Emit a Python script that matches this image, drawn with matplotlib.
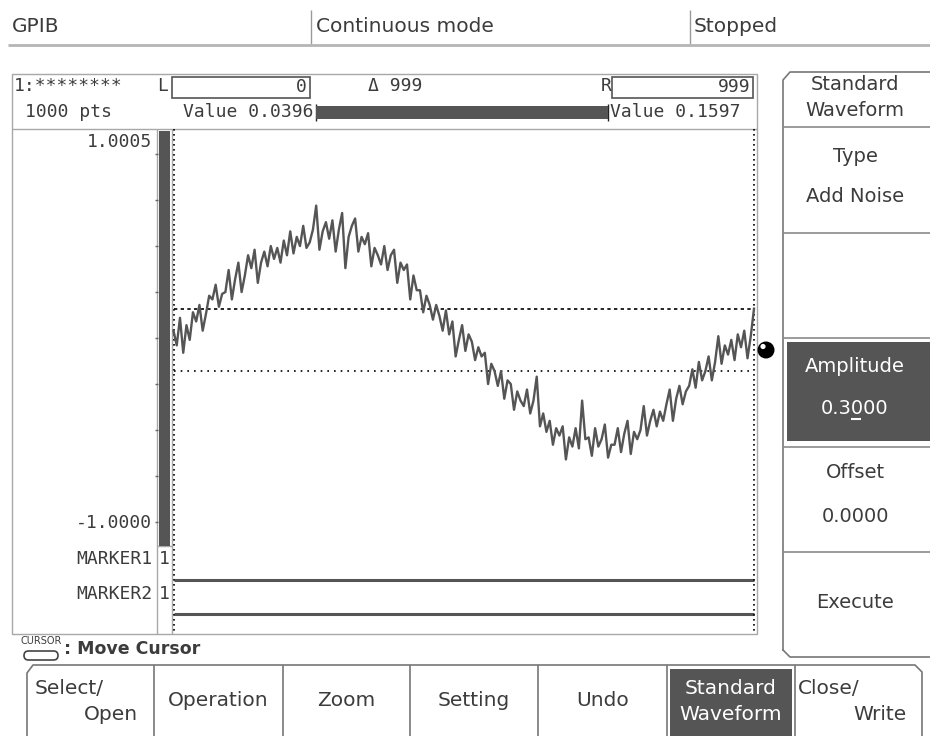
import numpy as np
import matplotlib
matplotlib.use("Agg")
import matplotlib.pyplot as plt
from matplotlib.patches import Rectangle, FancyBboxPatch, Circle

# ---------------- data ----------------
status_texts = ["GPIB", "Continuous mode", "Stopped"]
wave_name = "1:********"
n_points_label = "1000 pts"
cursor_l_index = 0
cursor_r_index = 999
cursor_l_value = 0.0396
cursor_r_value = 0.1597
lower_guide_value = -0.18
y_top_label = "1.0005"
y_bottom_label = "-1.0000"
y_limits = (-1.0, 1.0005)
marker_labels = ["MARKER1", "MARKER2"]
side_title = ["Standard", "Waveform"]
side_items = [("Type", "Add Noise"), ("", ""), ("Amplitude", "0.3000"), ("Offset", "0.0000"), ("Execute", "")]
bottom_buttons = ["Select/\nOpen", "Operation", "Zoom", "Setting", "Undo", "Standard\nWaveform", "Close/\nWrite"]
cursor_hint = ": Move Cursor"

waveform = [
    0.0396, -0.04, 0.11, -0.08,
    0.07, -0.01, 0.14, 0.09,
    0.18, 0.04, 0.13, 0.23,
    0.21, 0.29, 0.17, 0.24,
    0.25, 0.37, 0.21, 0.32,
    0.41, 0.25, 0.34, 0.45,
    0.38, 0.48, 0.30, 0.41,
    0.47, 0.39, 0.50, 0.43,
    0.49, 0.41, 0.53, 0.45,
    0.58, 0.46, 0.55, 0.50,
    0.61, 0.49, 0.52, 0.59,
    0.72, 0.48, 0.58, 0.63,
    0.54, 0.64, 0.47, 0.59,
    0.68, 0.38, 0.55, 0.61,
    0.65, 0.47, 0.55, 0.51,
    0.57, 0.39, 0.49, 0.45,
    0.40, 0.50, 0.37, 0.45,
    0.48, 0.30, 0.41, 0.37,
    0.40, 0.21, 0.34, 0.26,
    0.26, 0.14, 0.23, 0.18,
    0.10, 0.18, 0.12, 0.04,
    0.15, 0.02, 0.09, -0.10,
    -0.01, 0.07, -0.07, 0.02,
    -0.02, -0.12, -0.05, -0.10,
    -0.08, -0.25, -0.14, -0.18,
    -0.26, -0.18, -0.33, -0.23,
    -0.25, -0.39, -0.29, -0.34,
    -0.37, -0.28, -0.41, -0.34,
    -0.21, -0.48, -0.41, -0.51,
    -0.45, -0.58, -0.49, -0.53,
    -0.48, -0.66, -0.54, -0.59,
    -0.49, -0.60, -0.34, -0.55,
    -0.54, -0.64, -0.49, -0.59,
    -0.55, -0.47, -0.65, -0.58,
    -0.58, -0.49, -0.62, -0.52,
    -0.45, -0.63, -0.51, -0.55,
    -0.50, -0.37, -0.53, -0.45,
    -0.39, -0.48, -0.40, -0.45,
    -0.36, -0.28, -0.45, -0.33,
    -0.26, -0.36, -0.29, -0.26,
    -0.17, -0.27, -0.13, -0.23,
    -0.18, -0.10, -0.23, -0.13,
    0.01, -0.14, -0.04, -0.09,
    -0.01, -0.12, 0.02, -0.05,
    0.04, -0.11, 0.01, 0.1597,
]
sample_index = np.linspace(cursor_l_index, cursor_r_index, len(waveform))

# ---------------- style ----------------
W, H = 930, 736
TXT = "#3c3c3c"
DARK = "#555555"
LGRAY = "#a8a8a8"
MONO = "DejaVu Sans Mono"
SANS = "DejaVu Sans"
MS = 13  # mono text size

fig = plt.figure(figsize=(W / 100, H / 100), dpi=100)
fig.patch.set_facecolor("white")
ui = fig.add_axes([0, 0, 1, 1])
ui.set_xlim(0, W)
ui.set_ylim(H, 0)
ui.axis("off")


def line(x0, y0, x1, y1, color=LGRAY, lw=1.0, ls="-", z=2):
    ui.plot([x0, x1], [y0, y1], color=color, lw=lw, ls=ls, zorder=z, solid_capstyle="butt")


def txt(x, y, s, size=12, ha="left", va="center", family=MONO, color=TXT, weight="normal", z=5):
    ui.text(x, y, s, fontsize=size, ha=ha, va=va, family=family, color=color, weight=weight, zorder=z)


# status bar
txt(12, 27, status_texts[0], size=14.5, family=SANS)
line(311, 10, 311, 44, color="#9a9a9a")
txt(316, 27, status_texts[1], size=14.5, family=SANS)
line(690, 10, 690, 44, color="#9a9a9a")
txt(694, 27, status_texts[2], size=14.5, family=SANS)
line(8, 45, W, 45, color="#b5b5b5", lw=2)

# header box
ui.add_patch(Rectangle((12, 74), 745, 560, fill=False, ec=LGRAY, lw=1, zorder=2))
line(12, 129, 757, 129)
txt(14, 86, wave_name, size=MS)
txt(163, 86, "L", size=MS, ha="center")
ui.add_patch(Rectangle((172, 77), 138, 21, fill=False, ec=DARK, lw=1.2, zorder=3))
txt(307, 87, str(cursor_l_index), size=MS, ha="right")
txt(368, 86, "\u0394 " + str(cursor_r_index - cursor_l_index), size=MS)
txt(606, 86, "R", size=MS, ha="center")
ui.add_patch(Rectangle((612, 77), 141, 21, fill=False, ec=DARK, lw=1.2, zorder=3))
txt(750, 87, str(cursor_r_index), size=MS, ha="right")
txt(68, 112, n_points_label, size=MS, ha="center")
txt(313, 112, "Value %.4f" % cursor_l_value, size=MS, ha="right")
ui.add_patch(Rectangle((316, 106), 292, 13, fc=DARK, ec="none", zorder=3))
line(316, 104, 316, 121, color="#222222", lw=1)
line(608, 104, 608, 121, color="#222222", lw=1)
txt(610, 112, "Value %.4f" % cursor_r_value, size=MS)

# vertical scale column
line(157, 129, 157, 634)
line(172, 129, 172, 634)
ui.add_patch(Rectangle((159, 131), 11, 415, fc=DARK, ec="none", zorder=3))
for k in range(9):
    yy = 154 + 46 * k
    line(155, yy, 157.5, yy, color="#666666", lw=1)
txt(152, 142, y_top_label, size=MS, ha="right")
txt(152, 523, y_bottom_label, size=MS, ha="right")
for lab, yy in zip(marker_labels, [559, 594]):
    txt(152, yy, lab, size=MS, ha="right")
    txt(164.5, yy, "1", size=MS, ha="center")
line(157, 546, 172, 546)

# cursors (vertical dotted)
line(173.5, 129, 173.5, 634, color="black", lw=1.2, ls=(0, (1, 2)), z=4)
line(754, 129, 754, 634, color="black", lw=1.2, ls=(0, (1, 2)), z=4)

# marker lines
line(174, 580, 754, 580, color=DARK, lw=2.2)
line(174, 614, 754, 614, color=DARK, lw=2.2)

# cursor hint
txt(41, 641, "CURSOR", size=7, ha="center", family=SANS)
ui.add_patch(FancyBboxPatch((24, 651), 34, 9, boxstyle="round,pad=0,rounding_size=4.5",
                            fc="white", ec="#444444", lw=1.2, zorder=3))
txt(64, 649, cursor_hint, size=12.5, weight="bold", family=SANS)

# right side panel
ui.plot([783, 783, 790, W], [650, 80, 72, 72], color="#777777", lw=1.2, zorder=2)
ui.plot([783, 783, 790, W], [650, 650, 657, 657], color="#777777", lw=1.2, zorder=2)
for yy in [127, 233, 338, 447, 552]:
    line(783, yy, W, yy, color="#8a8a8a", lw=1.2)
ui.add_patch(Rectangle((787, 342), 143, 99, fc=DARK, ec="none", zorder=3))
PX = 855
txt(PX, 85, side_title[0], size=14, ha="center", family=SANS)
txt(PX, 110, side_title[1], size=14, ha="center", family=SANS)
txt(PX, 157, side_items[0][0], size=14, ha="center", family=SANS)
txt(PX, 196, side_items[0][1], size=14, ha="center", family=SANS)
txt(PX, 367, side_items[2][0], size=14, ha="center", family=SANS, color="white")
txt(PX, 408, side_items[2][1], size=14, ha="center", family=SANS, color="white")
line(851, 419, 861, 419, color="white", lw=1.5, z=6)
txt(PX, 472, side_items[3][0], size=14, ha="center", family=SANS)
txt(PX, 516, side_items[3][1], size=14, ha="center", family=SANS)
txt(PX, 602, side_items[4][0], size=14, ha="center", family=SANS)

# cursor ball
ui.add_patch(Circle((766, 350), 8.5, fc="black", ec="none", zorder=5))
ui.add_patch(Circle((763, 346.5), 2.6, fc="white", ec="none", zorder=6))

# bottom buttons
edges = [27, 154, 283, 410, 538, 667, 795, 922]
ui.plot([27, 27, 33, 915, 922, 922], [H, 673, 665, 665, 672, H], color="#777777", lw=1.2, zorder=2)
for xx in edges[1:-1]:
    line(xx, 665, xx, H, color="#777777", lw=1.2)
ui.add_patch(Rectangle((670, 669), 122, H - 669, fc=DARK, ec="none", zorder=3))
BS = 14.5
txt(35, 688, "Select/", size=BS, family=SANS)
txt(138, 715, "Open", size=BS, ha="right", family=SANS)
for i in range(1, 5):
    txt((edges[i] + edges[i + 1]) / 2, 701, bottom_buttons[i], size=BS, ha="center", family=SANS)
sw = bottom_buttons[5].split("\n")
txt(731, 688, sw[0], size=BS, ha="center", family=SANS, color="white")
txt(731, 714, sw[1], size=BS, ha="center", family=SANS, color="white")
cw = bottom_buttons[6].split("\n")
txt(798, 688, cw[0], size=BS, family=SANS)
txt(907, 715, cw[1], size=BS, ha="right", family=SANS)

# ---------------- waveform axes ----------------
ax = fig.add_axes([173.5 / W, (H - 522) / H, (754 - 173.5) / W, 368 / H])
ax.patch.set_alpha(0)
ax.set_xlim(cursor_l_index, cursor_r_index)
ax.set_ylim(*y_limits)
ax.axis("off")
ax.plot(sample_index, waveform, color=DARK, lw=1.7, zorder=3, clip_on=False)
ax.axhline(cursor_r_value, color="black", lw=1.2, ls=(0, (2, 2)), zorder=2)
ax.axhline(lower_guide_value, color="black", lw=1.2, ls=(0, (1, 3)), zorder=2)

fig.savefig("out.png", dpi=100, facecolor="white")
